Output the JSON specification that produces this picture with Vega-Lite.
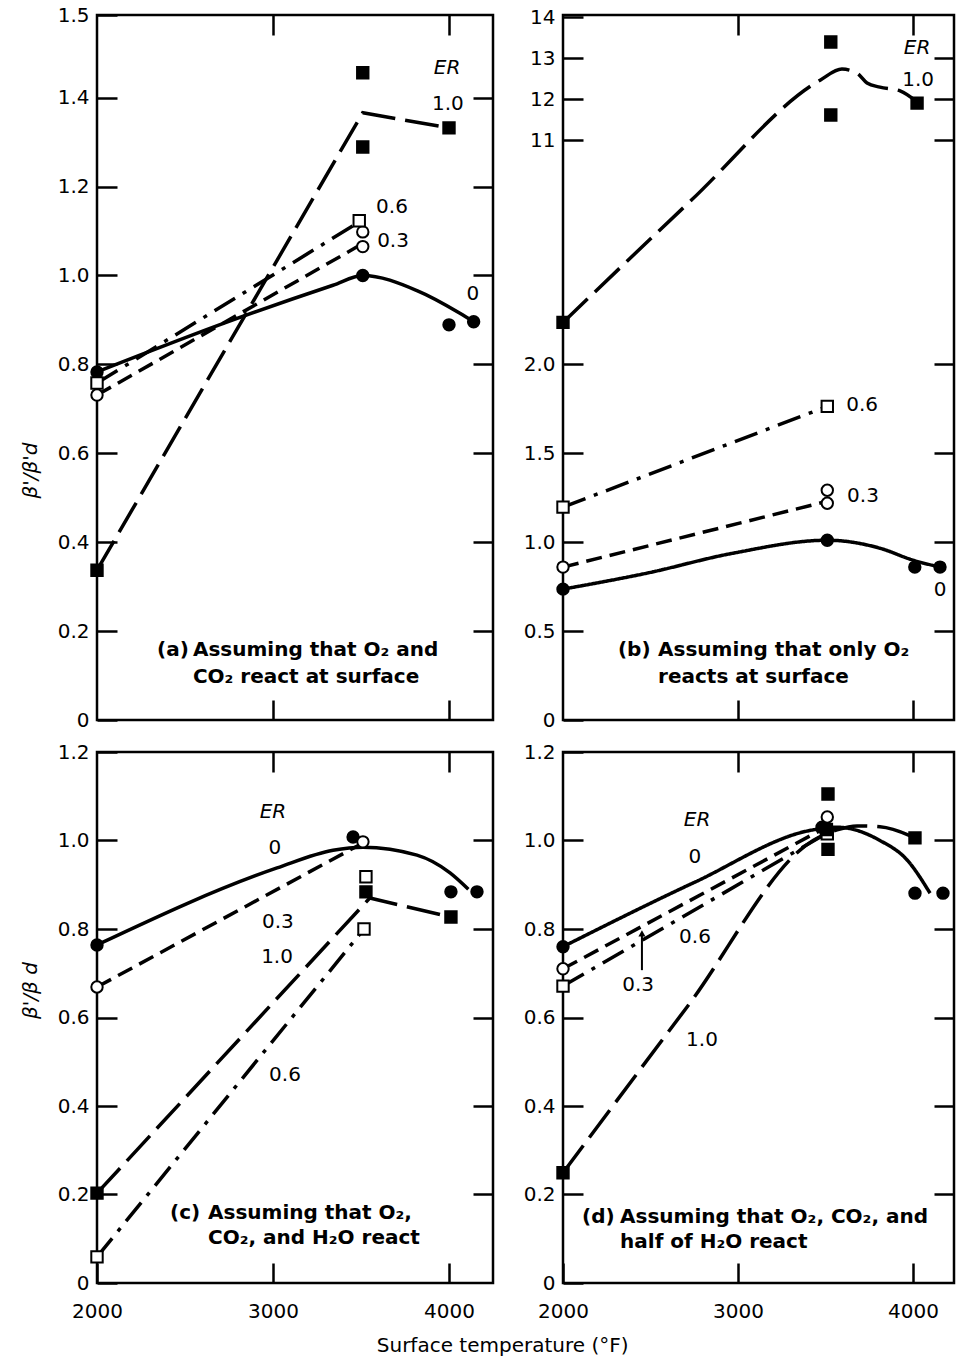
{
  "$schema": "https://vega.github.io/schema/vega-lite/v6.json",
  "autosize": {"type": "pad"},
  "padding": {"left": 18, "top": 3, "right": 0, "bottom": 0},
  "background": "white",
  "config": {
    "font": "DejaVu Sans",
    "view": {"stroke": "black", "strokeWidth": 2.5},
    "axis": {"labelFont": "DejaVu Sans", "labelFontSize": 20, "labelColor": "black", "tickColor": "black", "tickWidth": 2.5, "tickSize": -20, "domain": false, "grid": false, "titleColor": "black"}
  },
  "title": {"text": "Surface temperature (°F)", "orient": "bottom", "anchor": "middle", "font": "DejaVu Sans", "fontSize": 20, "fontWeight": "normal", "color": "black", "offset": 14, "dx": 15},
  "bounds": "flush",
  "columns": 2,
  "spacing": {"row": 32, "column": 70},
  "datasets": {
    "pts": [
      {"panel": "a", "er": "0", "T": 2000, "v": 0.783},
      {"panel": "a", "er": "0", "T": 3510, "v": 1.0},
      {"panel": "a", "er": "0", "T": 4000, "v": 0.889},
      {"panel": "a", "er": "0", "T": 4140, "v": 0.896},
      {"panel": "a", "er": "0.3", "T": 2000, "v": 0.731},
      {"panel": "a", "er": "0.3", "T": 3510, "v": 1.098},
      {"panel": "a", "er": "0.3", "T": 3510, "v": 1.065},
      {"panel": "a", "er": "0.6", "T": 2000, "v": 0.758},
      {"panel": "a", "er": "0.6", "T": 3490, "v": 1.123},
      {"panel": "a", "er": "1.0", "T": 2000, "v": 0.337},
      {"panel": "a", "er": "1.0", "T": 3510, "v": 1.456},
      {"panel": "a", "er": "1.0", "T": 3510, "v": 1.289},
      {"panel": "a", "er": "1.0", "T": 4000, "v": 1.332},
      {"panel": "b", "er": "0", "T": 2000, "v": 0.736},
      {"panel": "b", "er": "0", "T": 3510, "v": 1.011},
      {"panel": "b", "er": "0", "T": 4010, "v": 0.86},
      {"panel": "b", "er": "0", "T": 4154, "v": 0.86},
      {"panel": "b", "er": "0.3", "T": 2000, "v": 0.86},
      {"panel": "b", "er": "0.3", "T": 3510, "v": 1.292},
      {"panel": "b", "er": "0.3", "T": 3510, "v": 1.219},
      {"panel": "b", "er": "0.6", "T": 2000, "v": 1.197},
      {"panel": "b", "er": "0.6", "T": 3510, "v": 1.764},
      {"panel": "b", "er": "1.0", "T": 2000, "v": 2.236},
      {"panel": "b", "er": "1.0", "T": 3530, "v": 13.39},
      {"panel": "b", "er": "1.0", "T": 3530, "v": 11.61},
      {"panel": "b", "er": "1.0", "T": 4023, "v": 11.9},
      {"panel": "c", "er": "0", "T": 2000, "v": 0.764},
      {"panel": "c", "er": "0", "T": 3455, "v": 1.008},
      {"panel": "c", "er": "0", "T": 4011, "v": 0.884},
      {"panel": "c", "er": "0", "T": 4159, "v": 0.884},
      {"panel": "c", "er": "0.3", "T": 2000, "v": 0.669},
      {"panel": "c", "er": "0.3", "T": 3511, "v": 0.997},
      {"panel": "c", "er": "0.6", "T": 2000, "v": 0.059},
      {"panel": "c", "er": "0.6", "T": 3517, "v": 0.8},
      {"panel": "c", "er": "0.6", "T": 3528, "v": 0.918},
      {"panel": "c", "er": "1.0", "T": 2000, "v": 0.203},
      {"panel": "c", "er": "1.0", "T": 3528, "v": 0.884},
      {"panel": "c", "er": "1.0", "T": 4011, "v": 0.827},
      {"panel": "d", "er": "0", "T": 2000, "v": 0.76},
      {"panel": "d", "er": "0", "T": 3480, "v": 1.03},
      {"panel": "d", "er": "0", "T": 4011, "v": 0.881},
      {"panel": "d", "er": "0", "T": 4171, "v": 0.881},
      {"panel": "d", "er": "0.3", "T": 2000, "v": 0.71},
      {"panel": "d", "er": "0.3", "T": 3510, "v": 1.053},
      {"panel": "d", "er": "0.6", "T": 2000, "v": 0.671},
      {"panel": "d", "er": "0.6", "T": 3510, "v": 1.015},
      {"panel": "d", "er": "1.0", "T": 2000, "v": 0.249},
      {"panel": "d", "er": "1.0", "T": 3514, "v": 1.105},
      {"panel": "d", "er": "1.0", "T": 3514, "v": 0.98},
      {"panel": "d", "er": "1.0", "T": 3505, "v": 1.025},
      {"panel": "d", "er": "1.0", "T": 4011, "v": 1.006}
    ],
    "lines": [
      {"panel": "a", "er": "0", "T": 2000, "v": 0.783},
      {"panel": "a", "er": "0", "T": 2773, "v": 0.9},
      {"panel": "a", "er": "0", "T": 3341, "v": 0.978},
      {"panel": "a", "er": "0", "T": 3510, "v": 1.0},
      {"panel": "a", "er": "0", "T": 3818, "v": 0.966},
      {"panel": "a", "er": "0", "T": 4062, "v": 0.915},
      {"panel": "a", "er": "0", "T": 4140, "v": 0.896},
      {"panel": "a", "er": "0.3", "T": 2000, "v": 0.731},
      {"panel": "a", "er": "0.3", "T": 3480, "v": 1.065},
      {"panel": "a", "er": "0.6", "T": 2000, "v": 0.758},
      {"panel": "a", "er": "0.6", "T": 3480, "v": 1.118},
      {"panel": "a", "er": "1.0", "T": 2000, "v": 0.337},
      {"panel": "a", "er": "1.0", "T": 3510, "v": 1.366},
      {"panel": "a", "er": "1.0", "T": 4000, "v": 1.332},
      {"panel": "b", "er": "0", "T": 2000, "v": 0.736},
      {"panel": "b", "er": "0", "T": 2480, "v": 0.826},
      {"panel": "b", "er": "0", "T": 2971, "v": 0.938},
      {"panel": "b", "er": "0", "T": 3510, "v": 1.011},
      {"panel": "b", "er": "0", "T": 3811, "v": 0.966},
      {"panel": "b", "er": "0", "T": 4000, "v": 0.899},
      {"panel": "b", "er": "0", "T": 4154, "v": 0.86},
      {"panel": "b", "er": "0.3", "T": 2000, "v": 0.86},
      {"panel": "b", "er": "0.3", "T": 3490, "v": 1.225},
      {"panel": "b", "er": "0.6", "T": 2000, "v": 1.197},
      {"panel": "b", "er": "0.6", "T": 3500, "v": 1.76},
      {"panel": "b", "er": "1.0", "T": 2000, "v": 2.236},
      {"panel": "b", "er": "1.0", "T": 2734, "v": 2.924},
      {"panel": "b", "er": "1.0", "T": 3469, "v": 12.46},
      {"panel": "b", "er": "1.0", "T": 3594, "v": 12.73},
      {"panel": "b", "er": "1.0", "T": 3680, "v": 12.63},
      {"panel": "b", "er": "1.0", "T": 3737, "v": 12.39},
      {"panel": "b", "er": "1.0", "T": 3811, "v": 12.29},
      {"panel": "b", "er": "1.0", "T": 3926, "v": 12.2},
      {"panel": "b", "er": "1.0", "T": 4023, "v": 11.93},
      {"panel": "c", "er": "0", "T": 2000, "v": 0.764},
      {"panel": "c", "er": "0", "T": 3023, "v": 0.938},
      {"panel": "c", "er": "0", "T": 3341, "v": 0.978},
      {"panel": "c", "er": "0", "T": 3511, "v": 0.985},
      {"panel": "c", "er": "0", "T": 3818, "v": 0.967},
      {"panel": "c", "er": "0", "T": 4006, "v": 0.927},
      {"panel": "c", "er": "0", "T": 4110, "v": 0.89},
      {"panel": "c", "er": "0.3", "T": 2000, "v": 0.669},
      {"panel": "c", "er": "0.3", "T": 3490, "v": 0.99},
      {"panel": "c", "er": "0.6", "T": 2000, "v": 0.059},
      {"panel": "c", "er": "0.6", "T": 3517, "v": 0.8},
      {"panel": "c", "er": "1.0", "T": 2000, "v": 0.203},
      {"panel": "c", "er": "1.0", "T": 3550, "v": 0.87},
      {"panel": "c", "er": "1.0", "T": 4011, "v": 0.827},
      {"panel": "d", "er": "0", "T": 2000, "v": 0.76},
      {"panel": "d", "er": "0", "T": 2754, "v": 0.906},
      {"panel": "d", "er": "0", "T": 3429, "v": 1.024},
      {"panel": "d", "er": "0", "T": 3566, "v": 1.03},
      {"panel": "d", "er": "0", "T": 3811, "v": 1.0},
      {"panel": "d", "er": "0", "T": 3966, "v": 0.956},
      {"panel": "d", "er": "0", "T": 4097, "v": 0.881},
      {"panel": "d", "er": "0.3", "T": 2000, "v": 0.71},
      {"panel": "d", "er": "0.3", "T": 3480, "v": 1.025},
      {"panel": "d", "er": "0.6", "T": 2000, "v": 0.671},
      {"panel": "d", "er": "0.6", "T": 3480, "v": 1.01},
      {"panel": "d", "er": "1.0", "T": 2000, "v": 0.249},
      {"panel": "d", "er": "1.0", "T": 2711, "v": 0.625},
      {"panel": "d", "er": "1.0", "T": 3429, "v": 1.0},
      {"panel": "d", "er": "1.0", "T": 3566, "v": 1.024},
      {"panel": "d", "er": "1.0", "T": 3680, "v": 1.033},
      {"panel": "d", "er": "1.0", "T": 3811, "v": 1.031},
      {"panel": "d", "er": "1.0", "T": 4011, "v": 1.006}
    ],
    "labels": [
      {"panel": "a", "kind": "er", "T": 3989, "v": 1.467, "txt": "ER"},
      {"panel": "a", "kind": "num", "T": 3994, "v": 1.386, "txt": "1.0"},
      {"panel": "a", "kind": "num", "T": 3676, "v": 1.154, "txt": "0.6"},
      {"panel": "a", "kind": "num", "T": 3682, "v": 1.078, "txt": "0.3"},
      {"panel": "a", "kind": "num", "T": 4136, "v": 0.958, "txt": "0"},
      {"panel": "a", "kind": "cap", "T": 2341, "v": 0.157, "txt": "(a)"},
      {"panel": "a", "kind": "cap", "T": 2545, "v": 0.157, "txt": "Assuming that O₂ and"},
      {"panel": "a", "kind": "cap", "T": 2545, "v": 0.097, "txt": "CO₂ react at surface"},
      {"panel": "b", "kind": "er", "T": 4023, "v": 13.24, "txt": "ER"},
      {"panel": "b", "kind": "num", "T": 4029, "v": 12.46, "txt": "1.0"},
      {"panel": "b", "kind": "num", "T": 3709, "v": 1.769, "txt": "0.6"},
      {"panel": "b", "kind": "num", "T": 3714, "v": 1.262, "txt": "0.3"},
      {"panel": "b", "kind": "num", "T": 4154, "v": 0.732, "txt": "0"},
      {"panel": "b", "kind": "cap", "T": 2314, "v": 0.394, "txt": "(b)"},
      {"panel": "b", "kind": "cap", "T": 2543, "v": 0.394, "txt": "Assuming that only O₂"},
      {"panel": "b", "kind": "cap", "T": 2543, "v": 0.242, "txt": "reacts at surface"},
      {"panel": "c", "kind": "er", "T": 3000, "v": 1.064, "txt": "ER"},
      {"panel": "c", "kind": "num", "T": 3011, "v": 0.983, "txt": "0"},
      {"panel": "c", "kind": "num", "T": 3028, "v": 0.816, "txt": "0.3"},
      {"panel": "c", "kind": "num", "T": 3023, "v": 0.737, "txt": "1.0"},
      {"panel": "c", "kind": "num", "T": 3068, "v": 0.47, "txt": "0.6"},
      {"panel": "c", "kind": "cap", "T": 2415, "v": 0.158, "txt": "(c)"},
      {"panel": "c", "kind": "cap", "T": 2631, "v": 0.158, "txt": "Assuming that O₂,"},
      {"panel": "c", "kind": "cap", "T": 2631, "v": 0.102, "txt": "CO₂, and H₂O react"},
      {"panel": "d", "kind": "er", "T": 2766, "v": 1.046, "txt": "ER"},
      {"panel": "d", "kind": "num", "T": 2754, "v": 0.963, "txt": "0"},
      {"panel": "d", "kind": "num", "T": 2754, "v": 0.782, "txt": "0.6"},
      {"panel": "d", "kind": "num", "T": 2429, "v": 0.673, "txt": "0.3"},
      {"panel": "d", "kind": "num", "T": 2794, "v": 0.549, "txt": "1.0"},
      {"panel": "d", "kind": "cap", "T": 2109, "v": 0.149, "txt": "(d)"},
      {"panel": "d", "kind": "cap", "T": 2326, "v": 0.149, "txt": "Assuming that O₂, CO₂, and"},
      {"panel": "d", "kind": "cap", "T": 2326, "v": 0.093, "txt": "half of H₂O react"}
    ],
    "ptr": [
      {"panel": "d", "T": 2451, "v": 0.707, "v2": 0.79}
    ]
  },
  "concat": [
    {
      "width": 396, "height": 705,
      "layer": [
        {
          "data": {"name": "lines"},
          "transform": [{"filter": "datum.panel == 'a' && datum.er != '0'"}],
          "mark": {"type": "line", "color": "black", "strokeWidth": 3.5},
          "encoding": {
            "x": {"field": "T", "type": "quantitative", "scale": {"domain": [2000, 4250], "nice": false, "zero": false}, "axis": {"orient": "bottom", "values": [3000, 4000], "labels": false, "title": null}},
            "y": {"field": "v", "type": "quantitative", "scale": {"domain": [0, 1.586], "nice": false, "zero": false}, "axis": {"orient": "left", "values": [0, 0.2, 0.4, 0.6, 0.8, 1.0, 1.2, 1.4, 1.586], "labelExpr": "datum.value > 1.5 ? '1.5' : datum.value == 0 ? '0' : format(datum.value, '.1f')", "labelPadding": 28, "title": "β'/β'd", "titleFont": "DejaVu Sans", "titleFontSize": 20, "titleFontStyle": "italic", "titleFontWeight": "normal", "titleX": -67, "titleY": 455, "titleAlign": "center", "titleBaseline": "middle", "titleAngle": -90}},
            "detail": {"field": "er", "type": "nominal"},
            "strokeDash": {"field": "er", "type": "nominal", "scale": {"domain": ["0", "0.3", "0.6", "1.0"], "range": [[1, 0], [16, 8], [24, 9, 4, 9], [34, 10]]}, "legend": null}
          }
        },
        {
          "data": {"name": "lines"},
          "transform": [{"filter": "datum.panel == 'a' && datum.er == '0'"}],
          "mark": {"type": "line", "color": "black", "strokeWidth": 3.5, "interpolate": "monotone"},
          "encoding": {
            "x": {"field": "T", "type": "quantitative", "scale": {"domain": [2000, 4250], "nice": false, "zero": false}, "axis": {"orient": "top", "values": [3000, 4000], "labels": false, "title": null}},
            "y": {"field": "v", "type": "quantitative", "scale": {"domain": [0, 1.586], "nice": false, "zero": false}, "axis": {"orient": "right", "values": [0.2, 0.4, 0.6, 0.8, 1.0, 1.2, 1.4], "labels": false, "title": null}}
          }
        },
        {
          "data": {"name": "pts"},
          "transform": [{"filter": "datum.panel == 'a'"}],
          "mark": {"type": "point", "filled": true, "size": 130, "stroke": "black", "strokeWidth": 2, "opacity": 1},
          "encoding": {
            "x": {"field": "T", "type": "quantitative", "axis": null},
            "y": {"field": "v", "type": "quantitative", "axis": null},
            "shape": {"field": "er", "type": "nominal", "scale": {"domain": ["0", "0.3", "0.6", "1.0"], "range": ["circle", "circle", "square", "square"]}, "legend": null},
            "fill": {"field": "er", "type": "nominal", "scale": {"domain": ["0", "0.3", "0.6", "1.0"], "range": ["black", "white", "white", "black"]}, "legend": null}
          }
        },
        {
          "data": {"name": "labels"},
          "transform": [{"filter": "datum.panel == 'a' && datum.kind == 'num'"}],
          "mark": {"type": "text", "font": "DejaVu Sans", "fontSize": 20, "color": "black", "align": "center", "baseline": "middle"},
          "encoding": {"x": {"field": "T", "type": "quantitative", "axis": null}, "y": {"field": "v", "type": "quantitative", "axis": null}, "text": {"field": "txt"}}
        },
        {
          "data": {"name": "labels"},
          "transform": [{"filter": "datum.panel == 'a' && datum.kind == 'er'"}],
          "mark": {"type": "text", "font": "DejaVu Sans", "fontSize": 20, "fontStyle": "italic", "color": "black", "align": "center", "baseline": "middle"},
          "encoding": {"x": {"field": "T", "type": "quantitative", "axis": null}, "y": {"field": "v", "type": "quantitative", "axis": null}, "text": {"field": "txt"}}
        },
        {
          "data": {"name": "labels"},
          "transform": [{"filter": "datum.panel == 'a' && datum.kind == 'cap'"}],
          "mark": {"type": "text", "font": "DejaVu Sans", "fontSize": 20, "fontWeight": "bold", "color": "black", "align": "left", "baseline": "middle"},
          "encoding": {"x": {"field": "T", "type": "quantitative", "axis": null}, "y": {"field": "v", "type": "quantitative", "axis": null}, "text": {"field": "txt"}}
        }
      ],
      "resolve": {"axis": {"x": "independent", "y": "independent"}}
    },
    {
      "width": 391, "height": 705,
      "layer": [
        {
          "data": {"name": "lines"},
          "transform": [{"filter": "datum.panel == 'b' && (datum.er == '0.3' || datum.er == '0.6')"}],
          "mark": {"type": "line", "color": "black", "strokeWidth": 3.5},
          "encoding": {
            "x": {"field": "T", "type": "quantitative", "scale": {"domain": [2000, 4234], "nice": false, "zero": false}, "axis": {"orient": "bottom", "values": [3000, 4000], "labels": false, "title": null}},
            "y": {"field": "v", "type": "quantitative", "scale": {"domain": [0, 3.11, 10.83, 14.05], "range": [705, 152, 132, 0], "nice": false, "zero": false}, "axis": {"orient": "left", "values": [0, 0.5, 1, 1.5, 2, 11, 12, 13, 14], "labelExpr": "datum.value >= 10 ? format(datum.value, 'd') : datum.value == 0 ? '0' : format(datum.value, '.1f')", "labelPadding": 28, "title": null}},
            "detail": {"field": "er", "type": "nominal"},
            "strokeDash": {"field": "er", "type": "nominal", "scale": {"domain": ["0", "0.3", "0.6", "1.0"], "range": [[1, 0], [16, 8], [24, 9, 4, 9], [34, 10]]}, "legend": null}
          }
        },
        {
          "data": {"name": "lines"},
          "transform": [{"filter": "datum.panel == 'b' && (datum.er == '0' || datum.er == '1.0')"}],
          "mark": {"type": "line", "color": "black", "strokeWidth": 3.5, "interpolate": "monotone"},
          "encoding": {
            "x": {"field": "T", "type": "quantitative", "scale": {"domain": [2000, 4234], "nice": false, "zero": false}, "axis": {"orient": "top", "values": [3000, 4000], "labels": false, "title": null}},
            "y": {"field": "v", "type": "quantitative", "scale": {"domain": [0, 3.11, 10.83, 14.05], "range": [705, 152, 132, 0], "nice": false, "zero": false}, "axis": {"orient": "right", "values": [0.5, 1, 1.5, 2, 11, 12, 13], "labels": false, "title": null}},
            "detail": {"field": "er", "type": "nominal"},
            "strokeDash": {"field": "er", "type": "nominal", "scale": {"domain": ["0", "0.3", "0.6", "1.0"], "range": [[1, 0], [16, 8], [24, 9, 4, 9], [34, 10]]}, "legend": null}
          }
        },
        {
          "data": {"name": "pts"},
          "transform": [{"filter": "datum.panel == 'b'"}],
          "mark": {"type": "point", "filled": true, "size": 130, "stroke": "black", "strokeWidth": 2, "opacity": 1},
          "encoding": {
            "x": {"field": "T", "type": "quantitative", "axis": null},
            "y": {"field": "v", "type": "quantitative", "axis": null},
            "shape": {"field": "er", "type": "nominal", "scale": {"domain": ["0", "0.3", "0.6", "1.0"], "range": ["circle", "circle", "square", "square"]}, "legend": null},
            "fill": {"field": "er", "type": "nominal", "scale": {"domain": ["0", "0.3", "0.6", "1.0"], "range": ["black", "white", "white", "black"]}, "legend": null}
          }
        },
        {
          "data": {"name": "labels"},
          "transform": [{"filter": "datum.panel == 'b' && datum.kind == 'num'"}],
          "mark": {"type": "text", "font": "DejaVu Sans", "fontSize": 20, "color": "black", "align": "center", "baseline": "middle"},
          "encoding": {"x": {"field": "T", "type": "quantitative", "axis": null}, "y": {"field": "v", "type": "quantitative", "axis": null}, "text": {"field": "txt"}}
        },
        {
          "data": {"name": "labels"},
          "transform": [{"filter": "datum.panel == 'b' && datum.kind == 'er'"}],
          "mark": {"type": "text", "font": "DejaVu Sans", "fontSize": 20, "fontStyle": "italic", "color": "black", "align": "center", "baseline": "middle"},
          "encoding": {"x": {"field": "T", "type": "quantitative", "axis": null}, "y": {"field": "v", "type": "quantitative", "axis": null}, "text": {"field": "txt"}}
        },
        {
          "data": {"name": "labels"},
          "transform": [{"filter": "datum.panel == 'b' && datum.kind == 'cap'"}],
          "mark": {"type": "text", "font": "DejaVu Sans", "fontSize": 20, "fontWeight": "bold", "color": "black", "align": "left", "baseline": "middle"},
          "encoding": {"x": {"field": "T", "type": "quantitative", "axis": null}, "y": {"field": "v", "type": "quantitative", "axis": null}, "text": {"field": "txt"}}
        }
      ],
      "resolve": {"axis": {"x": "independent", "y": "independent"}}
    },
    {
      "width": 396, "height": 531,
      "layer": [
        {
          "data": {"name": "lines"},
          "transform": [{"filter": "datum.panel == 'c' && datum.er != '0'"}],
          "mark": {"type": "line", "color": "black", "strokeWidth": 3.5},
          "encoding": {
            "x": {"field": "T", "type": "quantitative", "scale": {"domain": [2000, 4250], "nice": false, "zero": false}, "axis": {"orient": "bottom", "values": [2000, 3000, 4000], "format": "d", "labelFlush": false, "labelPadding": 38, "title": null}},
            "y": {"field": "v", "type": "quantitative", "scale": {"domain": [0, 1.2], "nice": false, "zero": false}, "axis": {"orient": "left", "values": [0, 0.2, 0.4, 0.6, 0.8, 1.0, 1.2], "labelExpr": "datum.value == 0 ? '0' : format(datum.value, '.1f')", "labelPadding": 28, "title": "β'/β d", "titleFont": "DejaVu Sans", "titleFontSize": 20, "titleFontStyle": "italic", "titleFontWeight": "normal", "titleX": -67, "titleY": 238, "titleAlign": "center", "titleBaseline": "middle", "titleAngle": -90}},
            "detail": {"field": "er", "type": "nominal"},
            "strokeDash": {"field": "er", "type": "nominal", "scale": {"domain": ["0", "0.3", "0.6", "1.0"], "range": [[1, 0], [16, 8], [24, 9, 4, 9], [34, 10]]}, "legend": null}
          }
        },
        {
          "data": {"name": "lines"},
          "transform": [{"filter": "datum.panel == 'c' && datum.er == '0'"}],
          "mark": {"type": "line", "color": "black", "strokeWidth": 3.5, "interpolate": "monotone"},
          "encoding": {
            "x": {"field": "T", "type": "quantitative", "scale": {"domain": [2000, 4250], "nice": false, "zero": false}, "axis": {"orient": "top", "values": [3000, 4000], "labels": false, "title": null}},
            "y": {"field": "v", "type": "quantitative", "scale": {"domain": [0, 1.2], "nice": false, "zero": false}, "axis": {"orient": "right", "values": [0.2, 0.4, 0.6, 0.8, 1.0], "labels": false, "title": null}}
          }
        },
        {
          "data": {"name": "pts"},
          "transform": [{"filter": "datum.panel == 'c'"}],
          "mark": {"type": "point", "filled": true, "size": 130, "stroke": "black", "strokeWidth": 2, "opacity": 1},
          "encoding": {
            "x": {"field": "T", "type": "quantitative", "axis": null},
            "y": {"field": "v", "type": "quantitative", "axis": null},
            "shape": {"field": "er", "type": "nominal", "scale": {"domain": ["0", "0.3", "0.6", "1.0"], "range": ["circle", "circle", "square", "square"]}, "legend": null},
            "fill": {"field": "er", "type": "nominal", "scale": {"domain": ["0", "0.3", "0.6", "1.0"], "range": ["black", "white", "white", "black"]}, "legend": null}
          }
        },
        {
          "data": {"name": "labels"},
          "transform": [{"filter": "datum.panel == 'c' && datum.kind == 'num'"}],
          "mark": {"type": "text", "font": "DejaVu Sans", "fontSize": 20, "color": "black", "align": "center", "baseline": "middle"},
          "encoding": {"x": {"field": "T", "type": "quantitative", "axis": null}, "y": {"field": "v", "type": "quantitative", "axis": null}, "text": {"field": "txt"}}
        },
        {
          "data": {"name": "labels"},
          "transform": [{"filter": "datum.panel == 'c' && datum.kind == 'er'"}],
          "mark": {"type": "text", "font": "DejaVu Sans", "fontSize": 20, "fontStyle": "italic", "color": "black", "align": "center", "baseline": "middle"},
          "encoding": {"x": {"field": "T", "type": "quantitative", "axis": null}, "y": {"field": "v", "type": "quantitative", "axis": null}, "text": {"field": "txt"}}
        },
        {
          "data": {"name": "labels"},
          "transform": [{"filter": "datum.panel == 'c' && datum.kind == 'cap'"}],
          "mark": {"type": "text", "font": "DejaVu Sans", "fontSize": 20, "fontWeight": "bold", "color": "black", "align": "left", "baseline": "middle"},
          "encoding": {"x": {"field": "T", "type": "quantitative", "axis": null}, "y": {"field": "v", "type": "quantitative", "axis": null}, "text": {"field": "txt"}}
        }
      ],
      "resolve": {"axis": {"x": "independent", "y": "independent"}}
    },
    {
      "width": 391, "height": 531,
      "layer": [
        {
          "data": {"name": "lines"},
          "transform": [{"filter": "datum.panel == 'd' && (datum.er == '0.3' || datum.er == '0.6')"}],
          "mark": {"type": "line", "color": "black", "strokeWidth": 3.5},
          "encoding": {
            "x": {"field": "T", "type": "quantitative", "scale": {"domain": [2000, 4234], "nice": false, "zero": false}, "axis": {"orient": "bottom", "values": [2000, 3000, 4000], "format": "d", "labelFlush": false, "labelPadding": 38, "title": null}},
            "y": {"field": "v", "type": "quantitative", "scale": {"domain": [0, 1.2], "nice": false, "zero": false}, "axis": {"orient": "left", "values": [0, 0.2, 0.4, 0.6, 0.8, 1.0, 1.2], "labelExpr": "datum.value == 0 ? '0' : format(datum.value, '.1f')", "labelPadding": 28, "title": null}},
            "detail": {"field": "er", "type": "nominal"},
            "strokeDash": {"field": "er", "type": "nominal", "scale": {"domain": ["0", "0.3", "0.6", "1.0"], "range": [[1, 0], [16, 8], [24, 9, 4, 9], [34, 10]]}, "legend": null}
          }
        },
        {
          "data": {"name": "lines"},
          "transform": [{"filter": "datum.panel == 'd' && (datum.er == '0' || datum.er == '1.0')"}],
          "mark": {"type": "line", "color": "black", "strokeWidth": 3.5, "interpolate": "monotone"},
          "encoding": {
            "x": {"field": "T", "type": "quantitative", "scale": {"domain": [2000, 4234], "nice": false, "zero": false}, "axis": {"orient": "top", "values": [3000, 4000], "labels": false, "title": null}},
            "y": {"field": "v", "type": "quantitative", "scale": {"domain": [0, 1.2], "nice": false, "zero": false}, "axis": {"orient": "right", "values": [0.2, 0.4, 0.6, 0.8, 1.0], "labels": false, "title": null}},
            "detail": {"field": "er", "type": "nominal"},
            "strokeDash": {"field": "er", "type": "nominal", "scale": {"domain": ["0", "0.3", "0.6", "1.0"], "range": [[1, 0], [16, 8], [24, 9, 4, 9], [34, 10]]}, "legend": null}
          }
        },
        {
          "data": {"name": "ptr"},
          "mark": {"type": "rule", "color": "black", "strokeWidth": 2},
          "encoding": {"x": {"field": "T", "type": "quantitative", "axis": null}, "y": {"field": "v", "type": "quantitative", "axis": null}, "y2": {"field": "v2"}}
        },
        {
          "data": {"name": "ptr"},
          "mark": {"type": "point", "shape": "triangle-up", "filled": true, "size": 50, "color": "black", "opacity": 1},
          "encoding": {"x": {"field": "T", "type": "quantitative", "axis": null}, "y": {"field": "v2", "type": "quantitative", "axis": null}}
        },
        {
          "data": {"name": "pts"},
          "transform": [{"filter": "datum.panel == 'd'"}],
          "mark": {"type": "point", "filled": true, "size": 130, "stroke": "black", "strokeWidth": 2, "opacity": 1},
          "encoding": {
            "x": {"field": "T", "type": "quantitative", "axis": null},
            "y": {"field": "v", "type": "quantitative", "axis": null},
            "shape": {"field": "er", "type": "nominal", "scale": {"domain": ["0", "0.3", "0.6", "1.0"], "range": ["circle", "circle", "square", "square"]}, "legend": null},
            "fill": {"field": "er", "type": "nominal", "scale": {"domain": ["0", "0.3", "0.6", "1.0"], "range": ["black", "white", "white", "black"]}, "legend": null}
          }
        },
        {
          "data": {"name": "labels"},
          "transform": [{"filter": "datum.panel == 'd' && datum.kind == 'num'"}],
          "mark": {"type": "text", "font": "DejaVu Sans", "fontSize": 20, "color": "black", "align": "center", "baseline": "middle"},
          "encoding": {"x": {"field": "T", "type": "quantitative", "axis": null}, "y": {"field": "v", "type": "quantitative", "axis": null}, "text": {"field": "txt"}}
        },
        {
          "data": {"name": "labels"},
          "transform": [{"filter": "datum.panel == 'd' && datum.kind == 'er'"}],
          "mark": {"type": "text", "font": "DejaVu Sans", "fontSize": 20, "fontStyle": "italic", "color": "black", "align": "center", "baseline": "middle"},
          "encoding": {"x": {"field": "T", "type": "quantitative", "axis": null}, "y": {"field": "v", "type": "quantitative", "axis": null}, "text": {"field": "txt"}}
        },
        {
          "data": {"name": "labels"},
          "transform": [{"filter": "datum.panel == 'd' && datum.kind == 'cap'"}],
          "mark": {"type": "text", "font": "DejaVu Sans", "fontSize": 20, "fontWeight": "bold", "color": "black", "align": "left", "baseline": "middle"},
          "encoding": {"x": {"field": "T", "type": "quantitative", "axis": null}, "y": {"field": "v", "type": "quantitative", "axis": null}, "text": {"field": "txt"}}
        }
      ],
      "resolve": {"axis": {"x": "independent", "y": "independent"}}
    }
  ]
}
